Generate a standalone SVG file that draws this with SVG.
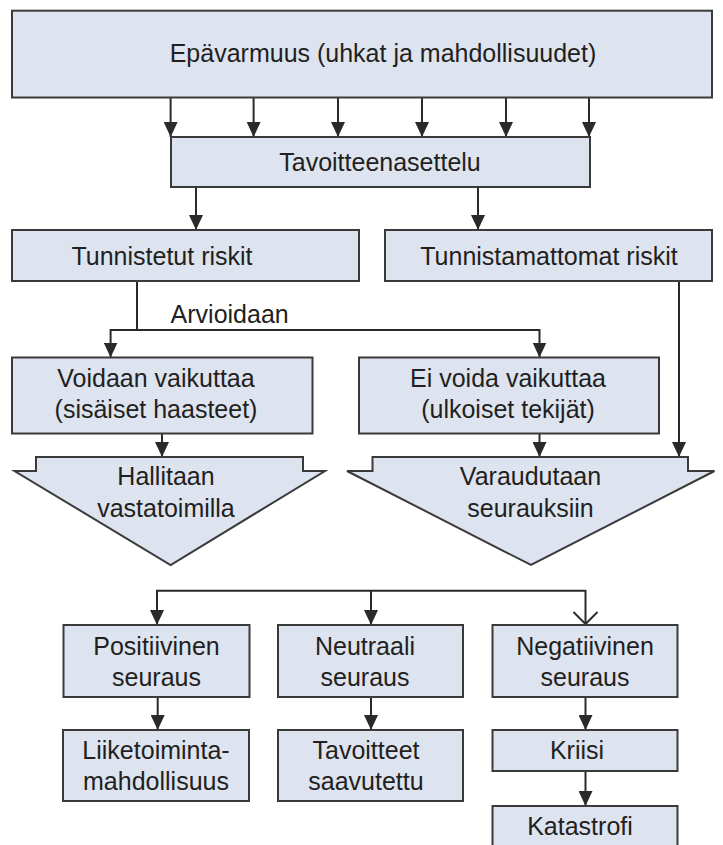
<svg xmlns="http://www.w3.org/2000/svg" width="723" height="845" viewBox="0 0 723 845">
<style>
.box{fill:#dde4f0;stroke:#3a3a3a;stroke-width:2}
.t{font-family:"Liberation Sans",Arial,sans-serif;font-size:25px;fill:#231f20;text-anchor:middle}
.ln{fill:none;stroke:#2a2a2a;stroke-width:2}
.ar{marker-end:url(#ah)}
</style>
<defs>
<marker id="ah" viewBox="0 0 15 14" refX="15" refY="7" markerWidth="15" markerHeight="14" orient="auto" markerUnits="userSpaceOnUse">
<path d="M0,0 L15,7 L0,14 z" fill="#2a2a2a"/>
</marker>
</defs>
<rect width="723" height="845" fill="#ffffff"/>
<g id="connectors">
<line class="ln ar" x1="170.6" y1="97.5" x2="170.6" y2="137"/>
<line class="ln ar" x1="253.6" y1="97.5" x2="253.6" y2="137"/>
<line class="ln ar" x1="338" y1="97.5" x2="338" y2="137"/>
<line class="ln ar" x1="422" y1="97.5" x2="422" y2="137"/>
<line class="ln ar" x1="506" y1="97.5" x2="506" y2="137"/>
<line class="ln ar" x1="589" y1="97.5" x2="589" y2="137"/>
<line class="ln ar" x1="196" y1="187" x2="196" y2="230"/>
<line class="ln ar" x1="478" y1="187" x2="478" y2="230"/>
<line class="ln" x1="137" y1="281" x2="137" y2="330"/>
<path class="ln ar" d="M137,330 H110.6 V357.5"/>
<path class="ln ar" d="M137,330 H539.5 V357.5"/>
<line class="ln ar" x1="679" y1="281" x2="679" y2="457"/>
<line class="ln ar" x1="162" y1="433.5" x2="162" y2="457"/>
<line class="ln ar" x1="539.5" y1="433.5" x2="539.5" y2="457"/>
<path class="ln ar" d="M371,590.7 H157 V625"/>
<line class="ln ar" x1="371" y1="590.7" x2="371" y2="625"/>
<path class="ln" d="M371,590.7 H585.5 V624"/>
<polyline class="ln" points="573.5,612 585.5,624 597.5,612"/>
<line class="ln ar" x1="157.7" y1="697" x2="157.7" y2="730"/>
<line class="ln ar" x1="371" y1="697" x2="371" y2="730"/>
<line class="ln ar" x1="585.5" y1="697" x2="585.5" y2="730"/>
<line class="ln ar" x1="585.5" y1="771" x2="585.5" y2="806"/>
</g>
<g id="n-epavarmuus"><rect class="box" x="12" y="10.7" width="700" height="86.8"/><text class="t" x="383" y="62">Epävarmuus (uhkat ja mahdollisuudet)</text></g>
<g id="n-tavoitteenasettelu"><rect class="box" x="171" y="137" width="419" height="50"/><text class="t" x="380" y="171">Tavoitteenasettelu</text></g>
<g id="n-tunnistetut"><rect class="box" x="12" y="230" width="347" height="51"/><text class="t" x="162" y="265">Tunnistetut riskit</text></g>
<g id="n-tunnistamattomat"><rect class="box" x="385" y="230" width="327" height="51"/><text class="t" x="549" y="265">Tunnistamattomat riskit</text></g>
<g id="l-arvioidaan"><text class="t" x="170.6" y="323" style="text-anchor:start">Arvioidaan</text></g>
<g id="n-voidaan"><rect class="box" x="12" y="357.5" width="300.5" height="76"/><text class="t" x="156" y="386.7">Voidaan vaikuttaa</text><text class="t" x="156" y="418">(sisäiset haasteet)</text></g>
<g id="n-eivoida"><rect class="box" x="359" y="357.5" width="300" height="76"/><text class="t" x="508" y="386.7">Ei voida vaikuttaa</text><text class="t" x="508" y="418">(ulkoiset tekijät)</text></g>
<g id="n-hallitaan"><polygon class="box" points="36,457 303,457 303,471 325,471 170.6,565 14.5,471 36,471"/><text class="t" x="166" y="485">Hallitaan</text><text class="t" x="166" y="517">vastatoimilla</text></g>
<g id="n-varaudutaan"><polygon class="box" points="372.5,457 688,457 688,471 714.5,471 531,565 347,471 372.5,471"/><text class="t" x="530.5" y="485">Varaudutaan</text><text class="t" x="530.5" y="517">seurauksiin</text></g>
<g id="n-positiivinen"><rect class="box" x="63.5" y="625" width="186" height="72"/><text class="t" x="156.5" y="655">Positiivinen</text><text class="t" x="156.5" y="686">seuraus</text></g>
<g id="n-neutraali"><rect class="box" x="278" y="625" width="185" height="72"/><text class="t" x="365" y="655">Neutraali</text><text class="t" x="365" y="686">seuraus</text></g>
<g id="n-negatiivinen"><rect class="box" x="492.5" y="625" width="185" height="72"/><text class="t" x="585" y="655">Negatiivinen</text><text class="t" x="585" y="686">seuraus</text></g>
<g id="n-liiketoiminta"><rect class="box" x="63" y="730" width="186" height="71"/><text class="t" x="156" y="759">Liiketoiminta-</text><text class="t" x="156" y="790">mahdollisuus</text></g>
<g id="n-tavoitteet"><rect class="box" x="278" y="730" width="185" height="71"/><text class="t" x="366" y="759">Tavoitteet</text><text class="t" x="366" y="790">saavutettu</text></g>
<g id="n-kriisi"><rect class="box" x="492.5" y="730" width="185" height="41"/><text class="t" x="577" y="759">Kriisi</text></g>
<g id="n-katastrofi"><rect class="box" x="492.5" y="806" width="185" height="50"/><text class="t" x="580" y="835">Katastrofi</text></g>
</svg>
